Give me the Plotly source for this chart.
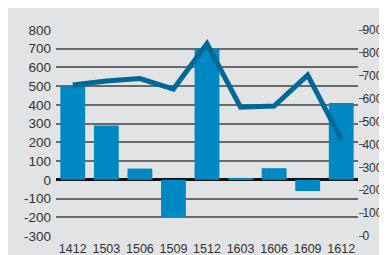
import plotly.graph_objects as go

categories = ["1412", "1503", "1506", "1509", "1512", "1603", "1606", "1609", "1612"]
bar_values = [500, 290, 60, -200, 700, 10, 62, -60, 410]
line_values = [660, 677, 688, 642, 840, 563, 568, 703, 422]

left_ticks = list(range(-300, 801, 100))
right_ticks = list(range(0, 901, 100))

FONT = "Liberation Sans, Arial, sans-serif"

fig = go.Figure()
fig.add_trace(go.Bar(
    x=categories, y=bar_values, marker_color="#0088c2", marker_line_width=0,
    yaxis="y", showlegend=False,
))
fig.add_trace(go.Scatter(
    x=categories, y=line_values, mode="lines", line=dict(color="#006895", width=5),
    yaxis="y2", showlegend=False,
))

fig.update_layout(
    width=387, height=255,
    margin=dict(l=48, r=37, t=22, b=27, autoexpand=False),
    paper_bgcolor="#e2e3e5", plot_bgcolor="#e2e3e5",
    bargap=0.26,
    font=dict(family=FONT, color="#333333"),
    xaxis=dict(
        type="category", showgrid=False, zeroline=False, showline=False,
        tickfont=dict(size=12.5, family=FONT, color="#333333"), ticks="",
        tickangle=0, automargin=False, ticklabelstandoff=3,
    ),
    yaxis=dict(
        range=[-300, 800], tickvals=left_ticks, ticktext=[str(v) for v in left_ticks],
        showgrid=True, gridcolor="#6a6a6a", gridwidth=1.5,
        zeroline=True, zerolinecolor="#111111", zerolinewidth=3,
        showline=False, ticks="", ticklabelstandoff=4, automargin=False,
        tickfont=dict(size=13.5, family=FONT, color="#333333"),
    ),
    yaxis2=dict(
        range=[0, 900], tickvals=right_ticks, ticktext=[str(v) for v in right_ticks],
        overlaying="y", side="right", showgrid=False, zeroline=False, showline=False,
        ticks="outside", ticklen=5, tickwidth=1.2, tickcolor="#555555", automargin=False,
        ticklabelstandoff=-4,
        tickfont=dict(size=12, family=FONT, color="#333333"),
    ),
)

fig.write_html("out.html", config={"responsive": False})
